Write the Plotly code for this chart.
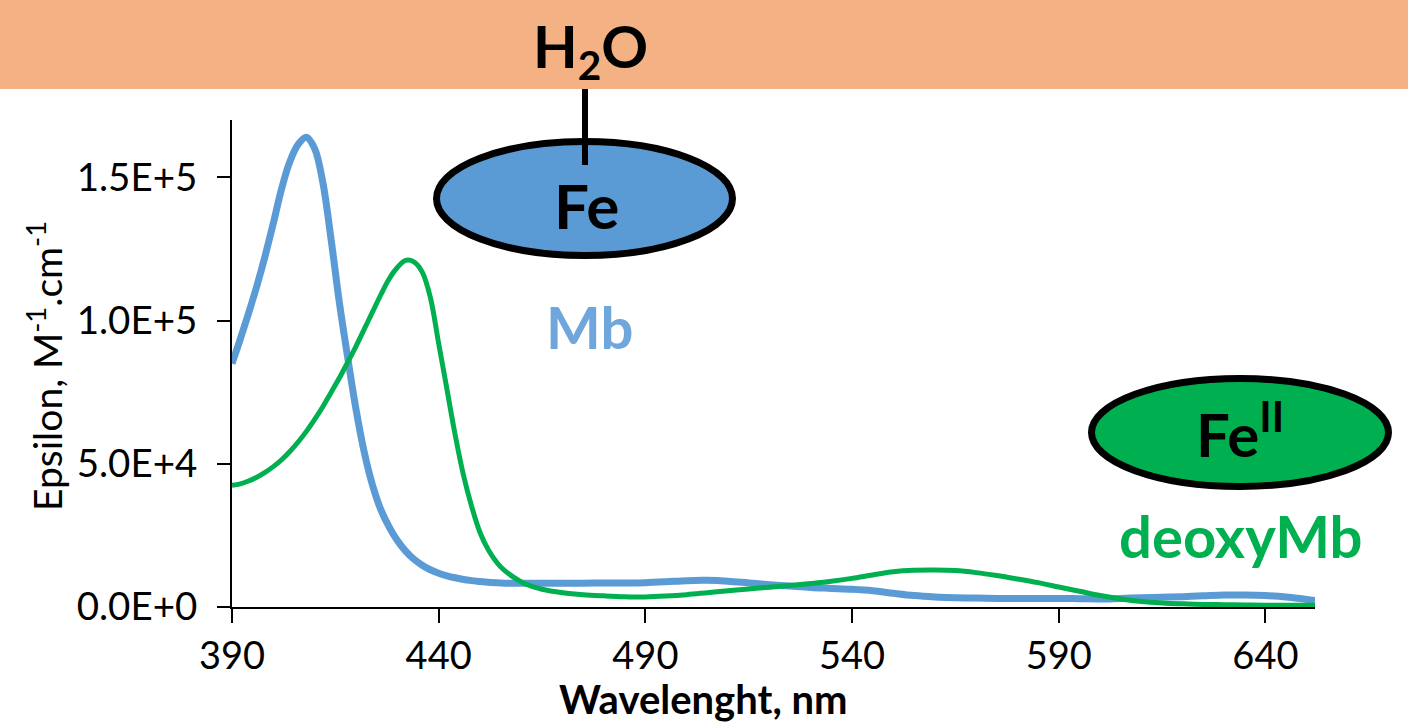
import plotly.graph_objects as go

# ---------------- data ----------------
wavelength = [390, 392, 394, 396, 398, 400, 402, 404, 406, 408, 410, 412, 414, 416, 418, 420,
              422, 424, 426, 428, 430, 432, 434, 436, 438, 440, 442, 444, 446, 448, 450, 452,
              455, 458, 461, 465, 470, 475, 480, 485, 490, 495, 500, 505, 510, 515, 520, 525,
              530, 535, 540, 545, 550, 555, 560, 565, 570, 575, 580, 585, 590, 595, 600, 605,
              610, 615, 620, 625, 630, 635, 640, 645, 650, 652]

mb = [85000, 93500, 102500, 112000, 122500, 134000, 146000, 155500, 161500, 164000, 160000,
      148000, 128000, 106000, 87000, 69000, 54000, 42500, 34000, 28000, 23200, 19500, 16700,
      14600, 13000, 11800, 10900, 10200, 9600, 9200, 8900, 8600, 8400, 8300, 8300, 8300, 8300,
      8300, 8400, 8400, 8500, 8800, 9200, 9300, 9000, 8400, 7800, 7300, 6800, 6500, 6200, 5700,
      4800, 4000, 3500, 3200, 3100, 3000, 3000, 3000, 3000, 2900, 2800, 3000, 3200, 3400, 3600,
      3900, 4200, 4200, 4000, 3500, 2600, 2300]

deoxymb = [42500, 43000, 44000, 45300, 47000, 49000, 51400, 54300, 57600, 61300, 65500, 70000,
           75000, 80000, 85500, 91000, 97000, 103000, 109000, 114500, 118500, 121000, 120500,
           117000, 108000, 92000, 76000, 60000, 46000, 35000, 26000, 20000, 14000, 10500, 8000,
           6200, 5000, 4300, 3900, 3600, 3500, 3800, 4300, 5000, 5700, 6300, 6900, 7500, 8200,
           9000, 10000, 11200, 12300, 12800, 12900, 12700, 12000, 11000, 9800, 8500, 7000, 5500,
           4000, 2800, 1900, 1400, 1100, 900, 800, 700, 600, 600, 600, 600]

x_ticks = [390, 440, 490, 540, 590, 640]
y_ticks = [0, 50000, 100000, 150000]
y_ticklabels = ["0.0E+0", "5.0E+4", "1.0E+5", "1.5E+5"]

# ---------------- layout helpers (pixel -> paper) ----------------
L, R, T, B = 232, 1315, 120, 607
W, H = 1408, 728


def px(x):
    return (x - L) / (R - L)


def py(y):
    return (B - y) / (B - T)


FONT = "Lato"

fig = go.Figure()
fig.add_trace(go.Scatter(x=wavelength, y=mb, mode="lines", name="Mb",
                         line=dict(color="#5B9BD5", width=7, shape="spline")))
fig.add_trace(go.Scatter(x=wavelength, y=deoxymb, mode="lines", name="deoxyMb",
                         line=dict(color="#00B050", width=5, shape="spline")))

shapes = [
    # orange band
    dict(type="rect", xref="paper", yref="paper", x0=px(0), x1=px(W), y0=py(89), y1=py(0),
         fillcolor="#F4B183", line=dict(width=0), layer="below"),
    # blue heme ellipse
    dict(type="circle", xref="paper", yref="paper", x0=px(436.5), x1=px(732.5),
         y0=py(255.5), y1=py(141.5), fillcolor="#5B9BD5", line=dict(color="black", width=7)),
    # water bond
    dict(type="line", xref="paper", yref="paper", x0=px(585), x1=px(585),
         y0=py(165), y1=py(89), line=dict(color="black", width=6)),
    # green heme ellipse
    dict(type="circle", xref="paper", yref="paper", x0=px(1091.5), x1=px(1388.5),
         y0=py(486.5), y1=py(378.5), fillcolor="#00B050", line=dict(color="black", width=7)),
]

annotations = [
    dict(text="<b>H<sub>2</sub>O</b>", x=px(590), y=py(50), font=dict(size=58, color="black")),
    dict(text="<b>Fe</b>", x=px(586), y=py(205), font=dict(size=62, color="black")),
    dict(text="<b>Mb</b>", x=px(589), y=py(326), font=dict(size=58, color="#6FA6DB")),
    dict(text="<b>Fe<sup>II</sup></b>", x=px(1240), y=py(430), font=dict(size=60, color="black")),
    dict(text="<b>deoxyMb</b>", x=px(1241), y=py(535), font=dict(size=58, color="#00B050")),
    dict(text="Epsilon, M<sup>-1</sup>.cm<sup>-1</sup>", x=px(44), y=py(366), textangle=-90,
         font=dict(size=39, color="black")),
    dict(text="<b>Wavelenght, nm</b>", x=px(703), y=py(699), font=dict(size=40, color="black")),
]
for a in annotations:
    a.update(xref="paper", yref="paper", showarrow=False, xanchor="center", yanchor="middle")
    a["font"]["family"] = FONT

fig.update_layout(
    width=W, height=H,
    margin=dict(l=L, r=W - R, t=T, b=H - B, pad=0),
    paper_bgcolor="white", plot_bgcolor="white",
    showlegend=False,
    font=dict(family=FONT, size=38, color="black"),
    shapes=shapes, annotations=annotations,
    xaxis=dict(range=[390, 652], tickvals=x_ticks, showgrid=False, zeroline=False,
               showline=True, linecolor="black", linewidth=2, ticks="outside",
               ticklen=14, tickwidth=2, tickcolor="black",
               tickfont=dict(size=38, family=FONT)),
    yaxis=dict(range=[0, 170000], tickvals=y_ticks, ticktext=y_ticklabels, showgrid=False,
               zeroline=False, showline=True, linecolor="black", linewidth=2, ticks="outside",
               ticklen=13, tickwidth=2, tickcolor="black", ticklabelstandoff=12,
               tickfont=dict(size=38.5, family=FONT)),
)

fig.write_html("out.html")
